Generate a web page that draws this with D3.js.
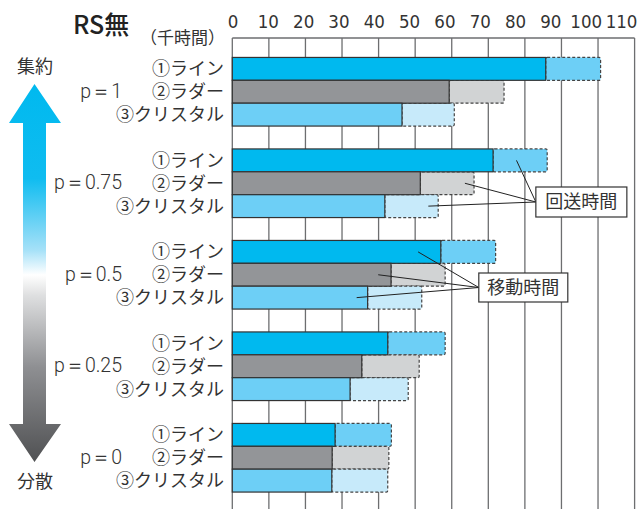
<!DOCTYPE html>
<html><head><meta charset="utf-8">
<script src="https://cdn.jsdelivr.net/npm/d3@7"></script>
<style>
html,body{margin:0;padding:0;background:#fff;}
svg{display:block;}
.jp{font-family:"Noto Sans CJK JP","Noto Sans",sans-serif;}
.num{font-family:Roboto,"Liberation Sans",sans-serif;}
</style></head>
<body>
<svg id="c" width="640" height="509"></svg>
<script>
// ---- data ----
const groups = ["p=1", "p=0.75", "p=0.5", "p=0.25", "p=0"];
const groupLabels = ["p＝1", "p＝0.75", "p＝0.5", "p＝0.25", "p＝0"];
const types = ["line", "ladder", "crystal"];
const typeLabels = ["①ライン", "②ラダー", "③クリスタル"];
// 移動時間 (千時間)
const moveLine    = [85.7, 71.3, 57.0, 42.5, 28.1];
const moveLadder  = [59.3, 51.4, 43.4, 35.4, 27.3];
const moveCrystal = [46.4, 41.7, 37.0, 32.2, 27.2];
// 回送時間 (千時間)
const retLine    = [15.0, 14.8, 15.0, 15.7, 15.4];
const retLadder  = [15.0, 14.7, 14.8, 15.7, 15.5];
const retCrystal = [14.3, 14.6, 14.8, 15.9, 15.3];
const xTicks = [0,10,20,30,40,50,60,70,80,90,100,110];
// callout annotations (group, type, value)
const retNotes  = [["p=0.75","line",77.7],["p=0.75","ladder",63.6],["p=0.75","crystal",53.6]];
const moveNotes = [["p=0.5","line",50.8],["p=0.5","ladder",39.9],["p=0.5","crystal",34.0]];

const moveFill = {line:"#00b9ef", ladder:"#939598", crystal:"#6dcff6"};
const retFill  = {line:"#6dcff6", ladder:"#d1d3d4", crystal:"#c7eafa"};
const moveVals = {line:moveLine, ladder:moveLadder, crystal:moveCrystal};
const retVals  = {line:retLine, ladder:retLadder, crystal:retCrystal};

const svg = d3.select("#c");
const x = d3.scaleLinear().domain([0,110]).range([232.3, 634.6]);
// tick labels in the reference sit on a slightly compressed spacing
const xl = d3.scaleLinear().domain([0,110]).range([232.5, 621]);
const y0 = d3.scaleBand().domain(groups).range([46, 503.5]).paddingInner(0.25).paddingOuter(0.125);
const y1 = d3.scaleBand().domain(types).range([0, y0.bandwidth()]);
const gridTop = 38, gridBottom = 509;

// grid
svg.append("g").selectAll("line").data(xTicks).join("line")
  .attr("x1", d=>x(d)).attr("x2", d=>x(d)).attr("y1", gridTop).attr("y2", gridBottom)
  .attr("stroke", "#6d6e70").attr("stroke-width", 1.3);
svg.append("line").attr("x1", x(0)).attr("x2", x(110)).attr("y1", gridTop).attr("y2", gridTop)
  .attr("stroke", "#6d6e70").attr("stroke-width", 1.3);

// tick labels via axis
const ax = svg.append("g").attr("transform", `translate(0,${gridTop})`)
  .call(d3.axisTop(xl).tickValues(xTicks).tickSize(0).tickPadding(10));
ax.select(".domain").remove();
ax.selectAll("text").attr("font-size", 18.5).attr("fill", "#333")
  .attr("font-family", "'Liberation Sans Narrow', 'DejaVu Sans Condensed', sans-serif");

// bars
const rows = [];
groups.forEach((g, gi) => types.forEach(t => rows.push({g, t, m: moveVals[t][gi], r: retVals[t][gi]})));
const bars = svg.append("g");
bars.selectAll("rect.ret").data(rows).join("rect").attr("class","ret")
  .attr("x", d=>x(d.m)).attr("width", d=>x(d.m+d.r)-x(d.m))
  .attr("y", d=>y0(d.g)+y1(d.t)).attr("height", y1.bandwidth())
  .attr("rx", 1.5)
  .attr("fill", d=>retFill[d.t]).attr("stroke", "#444").attr("stroke-width", 1.2)
  .attr("stroke-dasharray", "3,2");
bars.selectAll("rect.mov").data(rows).join("rect").attr("class","mov")
  .attr("x", x(0)).attr("width", d=>x(d.m)-x(0))
  .attr("y", d=>y0(d.g)+y1(d.t)).attr("height", y1.bandwidth())
  .attr("fill", d=>moveFill[d.t]).attr("stroke", "#333").attr("stroke-width", 1.2);

// category labels
groups.forEach(g => {
  svg.append("g").selectAll("text").data(types).join("text")
    .attr("class","jp").attr("x", 224).attr("y", t=>y0(g)+y1(t)+y1.bandwidth()/2)
    .attr("dy", "0.36em").attr("text-anchor","end").attr("font-size", 18).attr("fill", "#333")
    .text((t,i)=>typeLabels[i]);
});
// group labels
svg.append("g").selectAll("text").data(groups).join("text")
  .attr("class","num").attr("x", 122).attr("y", g=>y0(g)+y0.bandwidth()/2)
  .attr("dy", "0.3em").attr("text-anchor","end").attr("font-size", 19.5).attr("fill", "#333")
  .attr("font-weight", 300)
  .text((g,i)=>groupLabels[i]);

// title
svg.append("text").attr("class","jp").attr("x", 73).attr("y", 34).attr("font-size", 25)
  .attr("font-weight", 500).attr("fill", "#222").text("RS無");
svg.append("text").attr("class","jp").attr("x", 225).attr("y", 44).attr("text-anchor","end")
  .attr("font-size", 17).attr("fill", "#333").text("（千時間）");

// callouts
function callout(notes, boxX, boxY, boxW, boxH, label) {
  const cx = x(boxX), cy = boxY + boxH/2;
  const g = svg.append("g");
  g.selectAll("line").data(notes).join("line")
    .attr("x1", d=>x(d[2])).attr("y1", d=>y0(d[0])+y1(d[1])+y1.bandwidth()/2)
    .attr("x2", cx).attr("y2", cy).attr("stroke", "#222").attr("stroke-width", 1);
  g.append("rect").attr("x", cx).attr("y", boxY).attr("width", boxW).attr("height", boxH)
    .attr("fill", "#fff").attr("stroke", "#333").attr("stroke-width", 1.2);
  g.append("text").attr("class","jp").attr("x", cx+boxW/2).attr("y", cy).attr("dy","0.36em")
    .attr("text-anchor","middle").attr("font-size", 18).attr("fill","#333").text(label);
}
callout(retNotes, 83.0, 187, 91, 30, "回送時間");
callout(moveNotes, 67.4, 273, 89, 29, "移動時間");

// gradient arrow
const defs = svg.append("defs");
const grad = defs.append("linearGradient").attr("id","ag").attr("x1",0).attr("x2",0).attr("y1",0).attr("y2",1);
[[0,"#00b9ef"],[0.25,"#0fbcf0"],[0.44,"#a6e1f8"],[0.505,"#ffffff"],[0.56,"#dedfe0"],[0.75,"#8e8f92"],[1,"#505153"]]
  .forEach(s => grad.append("stop").attr("offset", s[0]).attr("stop-color", s[1]));
const ap = d3.path();
ap.moveTo(34.5, 84); ap.lineTo(61, 123); ap.lineTo(46, 123); ap.lineTo(46, 424); ap.lineTo(61, 424);
ap.lineTo(34.5, 462); ap.lineTo(9, 424); ap.lineTo(23, 424); ap.lineTo(23, 123); ap.lineTo(9, 123); ap.closePath();
svg.append("path").attr("d", ap.toString()).attr("fill", "url(#ag)");
svg.append("text").attr("class","jp").attr("x", 35).attr("y", 73).attr("text-anchor","middle")
  .attr("font-size", 18).attr("fill","#333").text("集約");
svg.append("text").attr("class","jp").attr("x", 35).attr("y", 488).attr("text-anchor","middle")
  .attr("font-size", 18).attr("fill","#333").text("分散");
</script>
</body></html>
